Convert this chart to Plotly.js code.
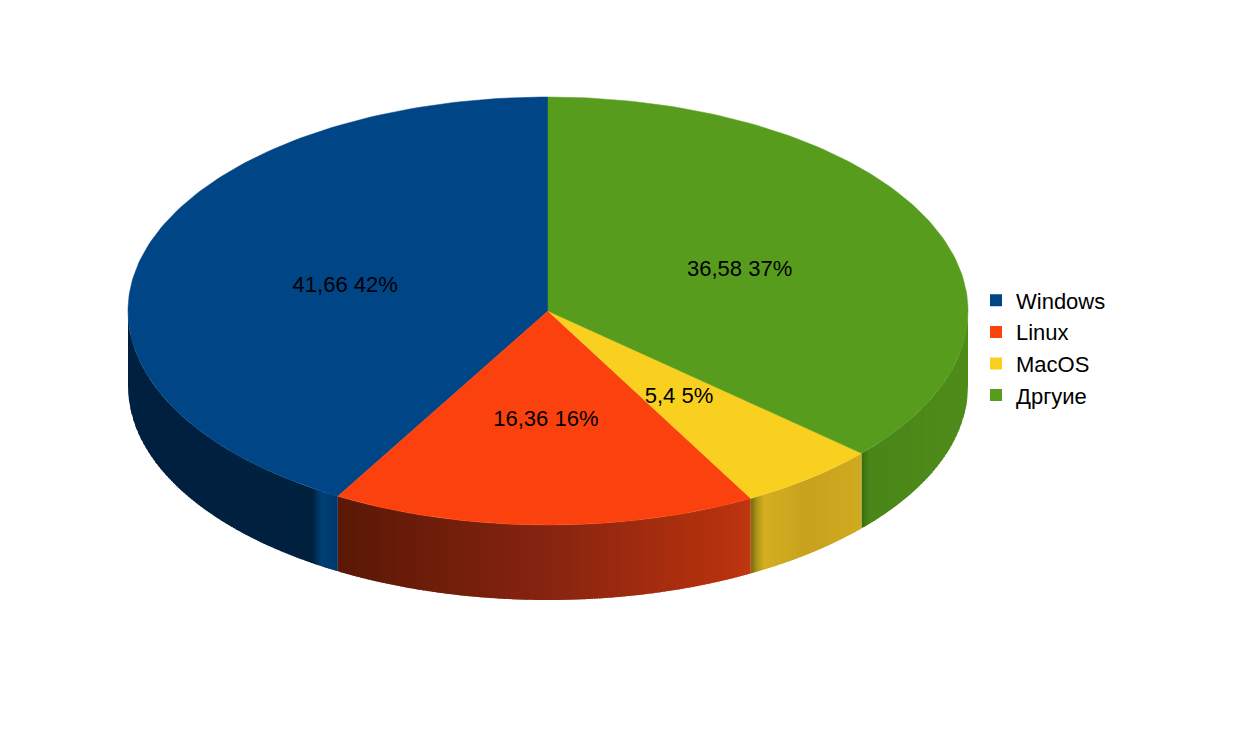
<!DOCTYPE html>
<html>
<head>
<meta charset="utf-8">
<script src="https://cdn.plot.ly/plotly-3.0.1.min.js"></script>
<style>
  html, body { margin: 0; padding: 0; background: #fff; }
  #plot { width: 1256px; height: 739px; }
</style>
</head>
<body>
<div id="plot"></div>
<script>
// chart data
var categories = ['Windows', 'Linux', 'MacOS', 'Дргуие']
var values = [41.66, 16.36, 5.4, 36.58]
var topColors = ['#004586', '#fb420e', '#f9d020', '#579c1c']

// shading of the visible side of each slice, by horizontal position left -> right
var sideStops = [
  [[0, '#00203f'], [0.88, '#00213f'], [0.92, '#003f76'], [0.96, '#003c70'], [1, '#00366a']],
  [[0, '#5a1806'], [0.5, '#862410'], [0.95, '#b8320e'], [1, '#c03810']],
  [[0, '#786812'], [0.06, '#b09818'], [0.12, '#d4ae20'], [0.5, '#c8a21e'], [1, '#d0aa20']],
  [[0, '#3a6a10'], [0.07, '#4a8618'], [1, '#4e8c1a']]
]

// pseudo 3d geometry in pixels
var cx = 548, cy = 311, rx = 420, ry = 214, depth = 75

function pt(a) {
  var r = a * Math.PI / 180
  return [cx + rx * Math.cos(r), cy - ry * Math.sin(r)]
}

// front-half angle for a given x
function angAt(x) {
  var c = Math.max(-1, Math.min(1, (x - cx) / rx))
  return 360 - Math.acos(c) * 180 / Math.PI
}

function hex(c) {
  return [parseInt(c.substr(1, 2), 16), parseInt(c.substr(3, 2), 16), parseInt(c.substr(5, 2), 16)]
}

function shade(stops, f) {
  for (var i = 1; i < stops.length; i++) {
    if (f <= stops[i][0]) {
      var a = hex(stops[i - 1][1]), b = hex(stops[i][1])
      var t = (f - stops[i - 1][0]) / (stops[i][0] - stops[i - 1][0])
      var c = a.map(function (v, k) { return Math.round(v + (b[k] - v) * t) })
      return 'rgb(' + c.join(',') + ')'
    }
  }
  return stops[stops.length - 1][1]
}

var total = values.reduce(function (s, v) { return s + v }, 0)
var sides = [], tops = [], legendTraces = []
var lx = [], ly = [], lt = []
var start = 90

values.forEach(function (v, i) {
  var a1 = start, a2 = start + v / total * 360
  start = a2

  // visible side (front half of the ellipse), cut in narrow vertical strips
  var lo = Math.max(a1, 180), hi = Math.min(a2, 360)
  if (hi > lo) {
    var xlo = pt(lo)[0], xhi = pt(hi)[0]
    var n = Math.ceil((xhi - xlo) / 2.5)
    for (var k = 0; k < n; k++) {
      var xa = xlo + (xhi - xlo) * k / n
      var xb = Math.min(xhi, xlo + (xhi - xlo) * (k + 1) / n + 1.5)
      var ta = k === 0 ? lo : angAt(xa), tb = xb >= xhi ? hi : angAt(xb)
      var up = [], dn = []
      for (var s = 0; s <= 4; s++) {
        var p = pt(ta + (tb - ta) * s / 4)
        up.push(p)
        dn.unshift([p[0], p[1] + depth])
      }
      var poly = up.concat(dn, [up[0]])
      var f = (xa + (xhi - xlo) / n / 2 - xlo) / (xhi - xlo)
      var col = shade(sideStops[i], Math.min(1, Math.max(0, f)))
      sides.push({
        x: poly.map(function (q) { return q[0] }),
        y: poly.map(function (q) { return q[1] }),
        type: 'scatter', mode: 'lines', fill: 'toself',
        fillcolor: col, line: {width: 0},
        hoverinfo: 'skip', showlegend: false
      })
    }
  }

  // top face
  var xs = [cx], ys = [cy]
  var m = Math.ceil(a2 - a1)
  for (var j = 0; j <= m; j++) {
    var p = pt(a1 + (a2 - a1) * j / m)
    xs.push(p[0]); ys.push(p[1])
  }
  xs.push(cx); ys.push(cy)
  tops.push({
    x: xs, y: ys, type: 'scatter', mode: 'lines', fill: 'toself',
    fillcolor: topColors[i], line: {color: topColors[i], width: 0.5},
    hoverinfo: 'skip', showlegend: false
  })

  // label at half radius
  var mid = (a1 + a2) / 2 * Math.PI / 180
  lx.push(cx + rx * 0.5 * Math.cos(mid))
  ly.push(cy + 3 - ry * 0.5 * Math.sin(mid))
  lt.push(String(v).replace('.', ',') + ' ' + Math.round(v / total * 100) + '%')

  legendTraces.push({
    x: [null], y: [null], type: 'scatter', mode: 'markers', name: categories[i],
    marker: {symbol: 'square', size: 12, color: topColors[i]}, showlegend: true
  })
})

var labels = {
  x: lx, y: ly, text: lt, type: 'scatter', mode: 'text',
  textposition: 'middle center',
  textfont: {family: 'Liberation Sans, Arial, sans-serif', size: 22, color: '#000'},
  hoverinfo: 'skip', showlegend: false
}

var layout = {
  width: 1256, height: 739,
  margin: {l: 0, r: 0, t: 0, b: 0},
  paper_bgcolor: '#fff', plot_bgcolor: '#fff',
  font: {family: 'Liberation Sans, Arial, sans-serif', size: 22, color: '#000'},
  xaxis: {range: [0, 1256], visible: false, fixedrange: true},
  yaxis: {range: [739, 0], visible: false, fixedrange: true},
  showlegend: true,
  legend: {x: 976 / 1256, xanchor: 'left', y: 1 - 348 / 739, yanchor: 'middle',
           bgcolor: 'rgba(0,0,0,0)', tracegroupgap: 0}
}

Plotly.newPlot('plot', sides.concat(tops, [labels], legendTraces), layout, {displayModeBar: false, staticPlot: true})
</script>
</body>
</html>
